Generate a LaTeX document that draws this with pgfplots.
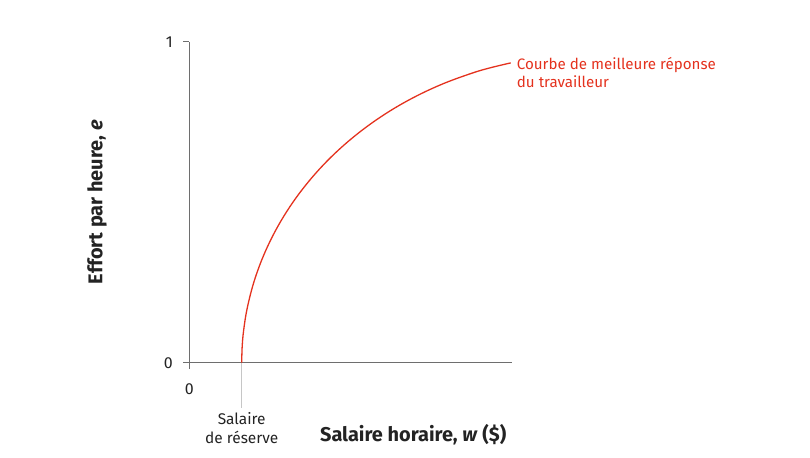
\documentclass[border=0pt]{standalone}
\usepackage{pgfplots}
\pgfplotsset{compat=1.18}
\usepackage{fontspec}
\setmainfont{Fira Sans}
\definecolor{curvered}{RGB}{228,50,30}
\definecolor{axgray}{RGB}{110,110,110}
\definecolor{txt}{RGB}{35,35,35}
\begin{document}
\begin{tikzpicture}[x=1bp,y=1bp]
\useasboundingbox (0,0) rectangle (810,458);
\begin{axis}[
  at={(189.3bp,95.3bp)}, anchor=south west,
  scale only axis, width=322.4bp, height=321bp,
  xmin=0, xmax=100, ymin=0, ymax=1,
  axis x line=bottom, axis y line=left,
  axis line style={draw=axgray, line width=1.1bp, -},
  tick style={draw=axgray, line width=1.1bp},
  tick align=outside, major tick length=6bp,
  xtick={0}, ytick={0,1},
  /pgf/number format/assume math mode=true,
  ticklabel style={font=\fontsize{16}{18}\selectfont, text=txt},
  xticklabel style={yshift=-11bp},
  yticklabel style={xshift=-7bp},
  clip=false,
  xlabel={Salaire horaire, \textit{w} (\$)},
  ylabel={Effort par heure, \textit{e}},
  xlabel style={at={(axis description cs:0.6945,-0.224)}, anchor=center, font=\fontsize{20}{24}\selectfont\bfseries, text=txt},
  ylabel style={at={(axis description cs:-0.286,0.5)}, anchor=center, font=\fontsize{20}{24}\selectfont\bfseries, text=txt},
]
\draw[draw=gray!45, line width=1bp] (axis cs:16.25,0) -- ++(0,-45bp);
\addplot[curvered, line width=1.3bp, smooth, tension=0.6] coordinates {
(16.25,0) (16.40,0.0503) (16.85,0.1004) (17.90,0.1668) (19.95,0.2485)
(22.81,0.3284) (26.44,0.4058) (30.82,0.4802) (35.92,0.5508) (41.69,0.6173)
(48.10,0.6790) (55.10,0.7356) (62.62,0.7866) (70.63,0.8316) (79.04,0.8703)
(87.81,0.9024) (93.21,0.9183) (99.71,0.9340)};
\node[anchor=north, align=center, font=\fontsize{15.5}{18.3}\selectfont, text=txt, inner sep=0pt] at (axis cs:16.25,0) [yshift=-50bp] {Salaire\\de réserve};
\node[anchor=north west, align=left, font=\fontsize{15.2}{17.5}\selectfont, text=curvered, inner sep=0pt] at (axis cs:101.55,0.951) {Courbe de meilleure réponse\\du travailleur};
\end{axis}
\end{tikzpicture}
\end{document}
